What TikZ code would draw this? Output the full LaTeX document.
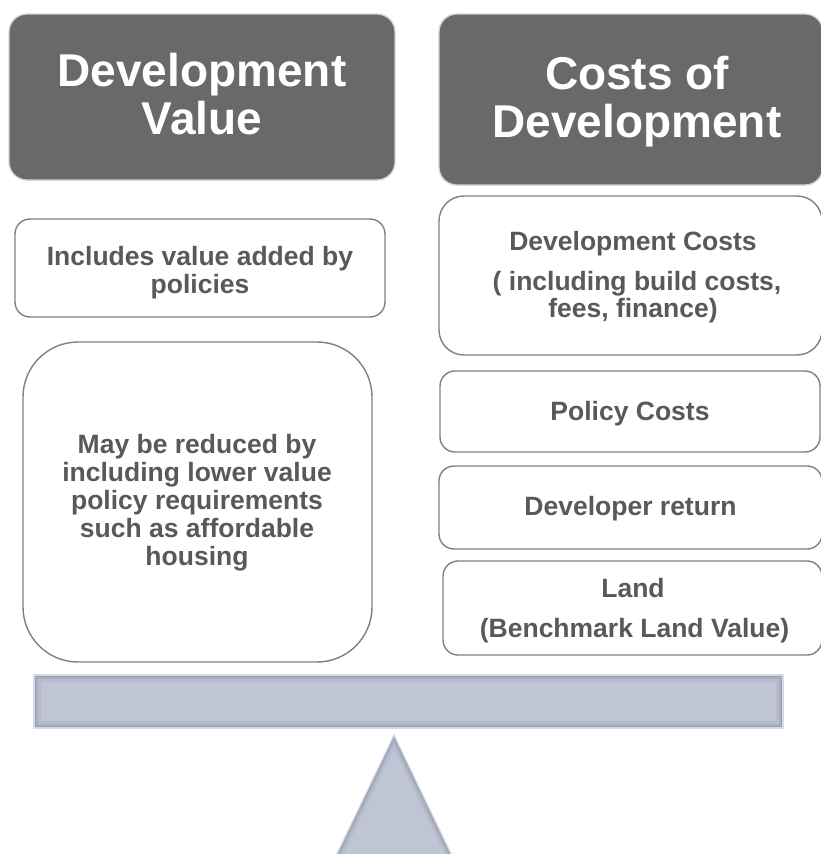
\documentclass[tikz,border=0pt]{standalone}
\usepackage{fontspec}
\setmainfont{Liberation Sans}
\begin{document}
\definecolor{hdrgray}{RGB}{105,105,105}
\definecolor{hdredge}{RGB}{205,209,222}
\definecolor{boxedge}{RGB}{128,128,128}
\definecolor{txtgray}{RGB}{89,89,89}
\definecolor{beamfill}{RGB}{191,197,213}
\definecolor{beamdark}{RGB}{110,116,136}
\definecolor{beamlight}{RGB}{214,218,230}
\tikzset{
  hdr/.style={fill=hdrgray, draw=hdredge, line width=1.3pt, rounded corners=18pt, inner sep=0pt},
  box/.style={fill=white, draw=boxedge, line width=1.4pt, rounded corners=15pt, inner sep=0pt},
  htxt/.style={text=white, font=\fontsize{46}{48}\selectfont\bfseries, anchor=base, inner sep=0pt},
  btxt/.style={text=txtgray, font=\fontsize{26.5}{28}\selectfont\bfseries, anchor=base, inner sep=0pt},
  inshadow/.style={draw=beamdark, line join=miter},
}
\begin{tikzpicture}[x=1pt,y=-1pt]
\clip (0,0) rectangle (821,854);
\fill[white] (0,0) rectangle (821,854);

% column headers
\node[hdr, minimum width=386pt, minimum height=166pt] (hval) at (202,97) {};
\node[hdr, minimum width=384pt, minimum height=171pt] (hcost) at (631,99.5) {};
\node[htxt] (hval1) at (202,86) {Development};
\node[htxt] (hval2) at (202,134) {Value};
\node[htxt] (hcost1) at (637,89) {Costs of};
\node[htxt] (hcost2) at (637,137) {Development};

% value side
\node[box, minimum width=370pt, minimum height=98pt] (vadd) at (200,268) {};
\node[btxt] (vadd1) at (200,265) {Includes value added by};
\node[btxt] (vadd2) at (200,293) {policies};

\node[box, rounded corners=55pt, minimum width=349pt, minimum height=320pt] (vred) at (197.5,502) {};
\node[btxt] (vred1) at (197,453) {May be reduced by};
\node[btxt] (vred2) at (197,481) {including lower value};
\node[btxt] (vred3) at (197,509) {policy requirements};
\node[btxt] (vred4) at (197,537) {such as affordable};
\node[btxt] (vred5) at (197,565) {housing};

% cost side
\node[box, rounded corners=25pt, minimum width=383pt, minimum height=159pt] (cdev) at (630.5,275.5) {};
\node[btxt] (cdev1) at (633,250) {Development Costs};
\node[btxt] (cdev2) at (637,290) {( including build costs,};
\node[btxt] (cdev3) at (633,317) {fees, finance)};

\node[box, minimum width=380pt, minimum height=81pt] (cpol) at (630,411.5) {};
\node[btxt] (cpol1) at (630,420) {Policy Costs};

\node[box, minimum width=383pt, minimum height=83pt] (cret) at (630.5,507.5) {};
\node[btxt] (cret1) at (630.5,515) {Developer return};

\node[box, minimum width=379pt, minimum height=94pt] (cland) at (632.5,608) {};
\node[btxt] (cland1) at (633,597) {Land};
\node[btxt] (cland2) at (634.5,637) {(Benchmark Land Value)};

% balance beam with inner shading
\fill[beamfill] (34,675) rectangle (783,728);
\begin{scope}
  \clip (34,675) rectangle (783,728);
  \draw[inshadow, line width=14pt, opacity=.10] (34,675) rectangle (783,728);
  \draw[inshadow, line width=8pt, opacity=.16] (34,675) rectangle (783,728);
  \draw[inshadow, line width=4pt, opacity=.26] (34,675) rectangle (783,728);
\end{scope}
\draw[beamlight, line width=1.2pt] (34,675) rectangle (783,728);

% fulcrum
\fill[beamfill] (394,735) -- (454,860) -- (334,860) -- cycle;
\begin{scope}
  \clip (394,735) -- (454,860) -- (334,860) -- cycle;
  \draw[inshadow, line width=12pt, opacity=.10] (394,735) -- (454,860) -- (334,860) -- cycle;
  \draw[inshadow, line width=7pt, opacity=.15] (394,735) -- (454,860) -- (334,860) -- cycle;
  \draw[inshadow, line width=3.5pt, opacity=.24] (394,735) -- (454,860) -- (334,860) -- cycle;
\end{scope}
\draw[beamlight, line width=1.2pt, line join=miter] (394,735) -- (454,860) -- (334,860) -- cycle;
\end{tikzpicture}
\end{document}
